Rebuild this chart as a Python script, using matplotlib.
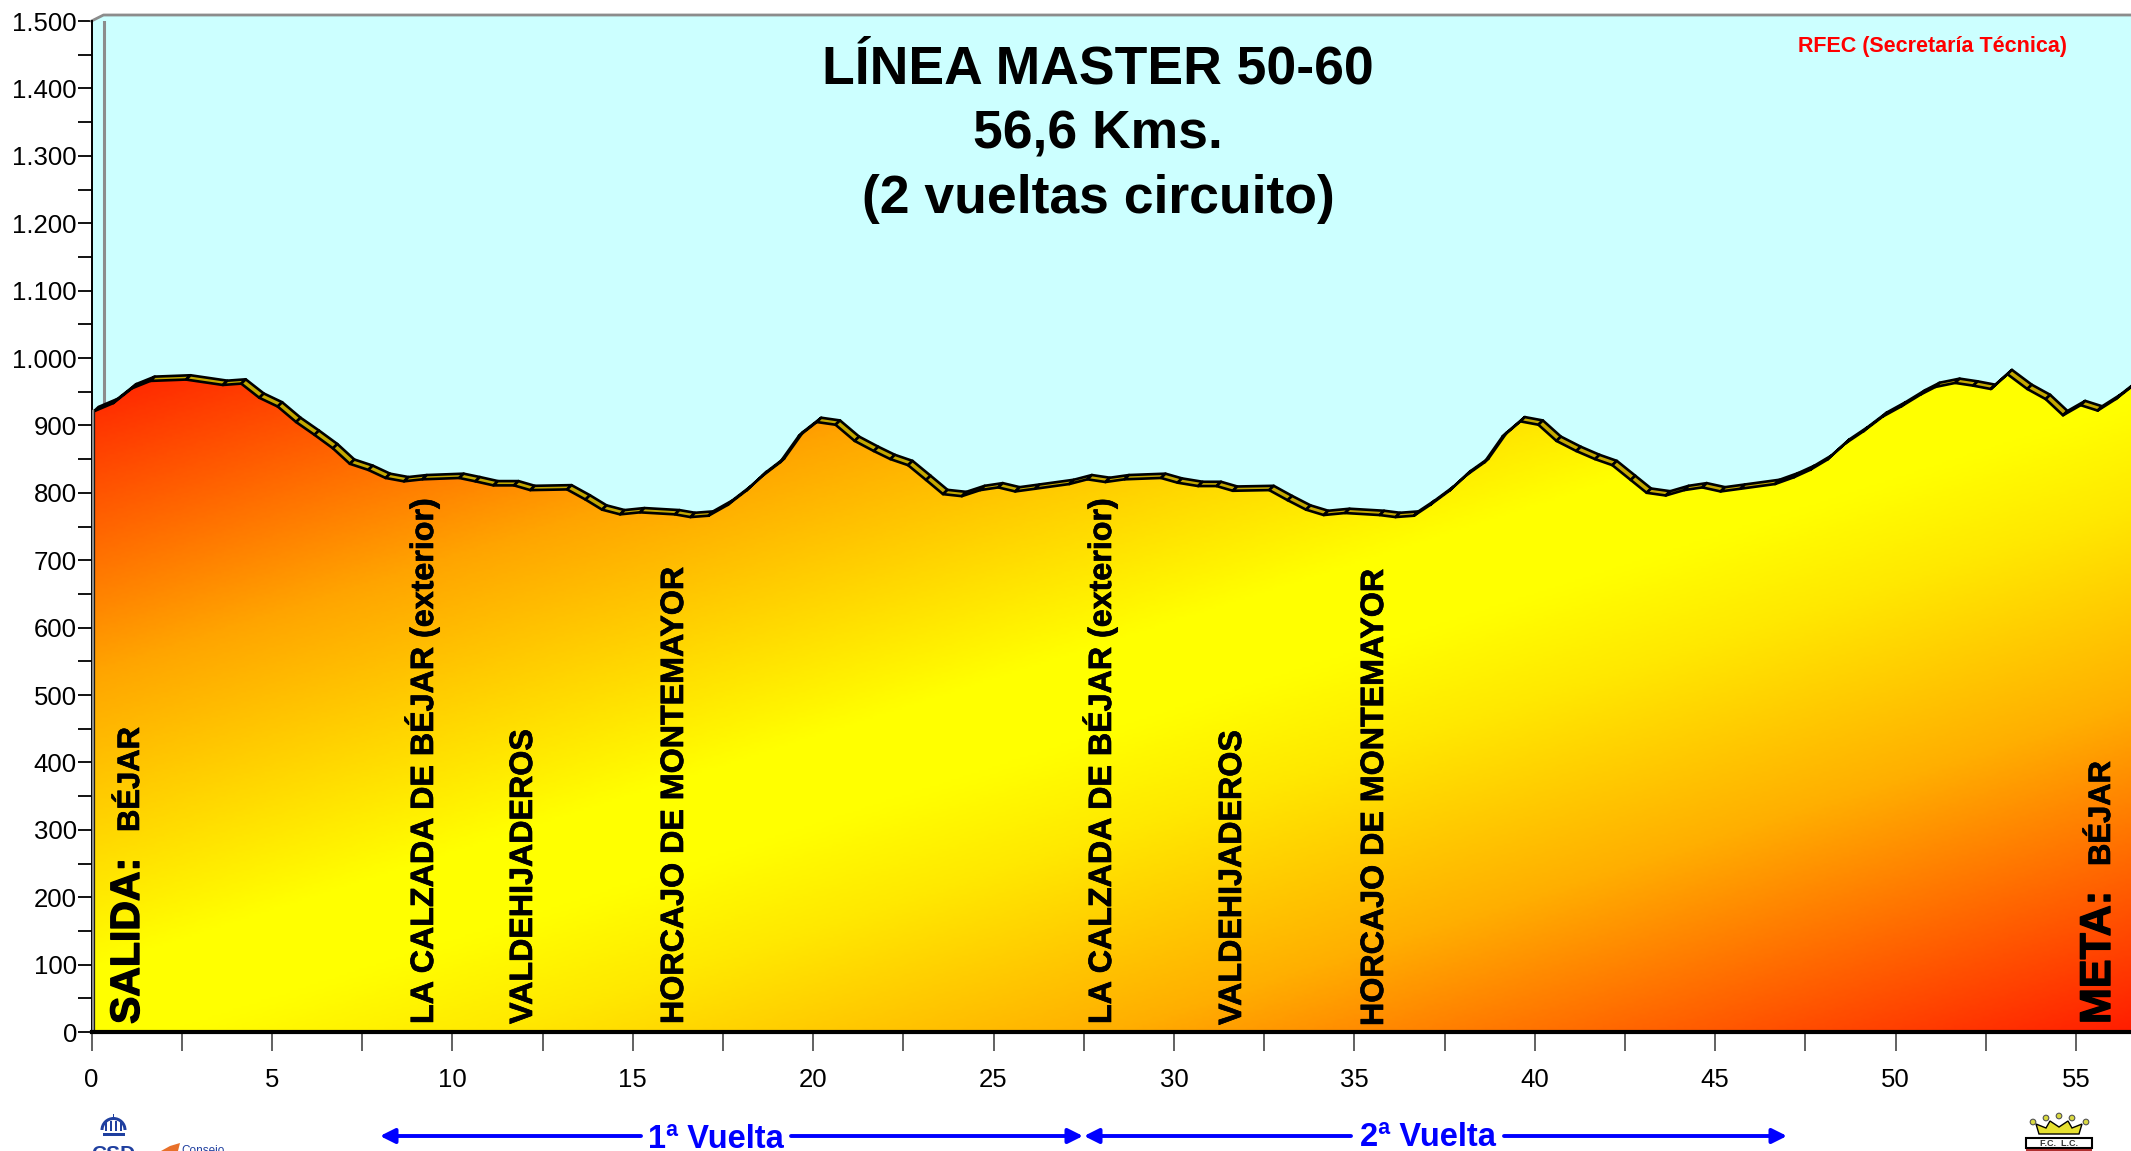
import numpy as np
import matplotlib
matplotlib.use('Agg')
import matplotlib.pyplot as plt
import matplotlib.patheffects as pe
from matplotlib.colors import LinearSegmentedColormap
from matplotlib.patches import Polygon, Rectangle, Circle, Wedge
from matplotlib.collections import PolyCollection

plt.rcParams['font.family'] = ['Liberation Sans', 'DejaVu Sans']

km = [0.07, 0.6, 1.12, 1.63, 2.62, 3.64, 4.15, 4.65, 5.16, 5.67, 6.18, 6.69, 7.16, 7.67, 8.15, 8.66,
      9.17, 10.19, 10.64, 11.14, 11.71, 12.16, 13.18, 13.69, 14.15, 14.65, 15.2, 16.17, 16.6, 17.1,
      17.63, 18.14, 18.59, 19.08, 19.6, 20.1, 20.62, 21.15, 21.68, 22.14, 22.63, 23.13, 23.6, 24.12,
      24.63, 25.13, 25.6, 26.15, 27.1, 27.6, 28.1, 28.63, 29.64, 30.1, 30.67, 31.18, 31.63, 32.64,
      33.15, 33.66, 34.15, 34.74, 35.7, 36.14, 36.65, 37.1, 37.63, 38.1, 38.6, 39.1, 39.6, 40.1,
      40.6, 41.15, 41.67, 42.15, 42.66, 43.1, 43.63, 44.14, 44.64, 45.15, 45.7, 46.66, 47.18, 47.63,
      48.1, 48.6, 49.1, 49.64, 50.15, 50.7, 51.1, 51.65, 52.15, 52.64, 53.1, 53.65, 54.16, 54.64,
      55.13, 55.6, 56.1, 56.53]
alt = [921, 933, 955, 966, 968, 960, 962, 941, 928, 905, 886, 866, 843, 834, 822, 817,
       820, 822, 817, 811, 811, 804, 805, 790, 775, 768, 771, 768, 764, 766,
       782, 803, 825, 845, 884, 905, 901, 877, 862, 850, 841, 819, 798, 795,
       804, 808, 802, 806, 813, 820, 816, 820, 822, 815, 810, 810, 803, 804,
       789, 775, 767, 770, 767, 764, 766, 782, 803, 826, 845, 883, 906, 901,
       877, 862, 850, 841, 819, 800, 796, 804, 808, 802, 806, 813, 823, 834,
       849, 873, 891, 913, 928, 946, 957, 963, 959, 954, 976, 954, 939, 915,
       930, 922, 939, 957]

xticks_major = [0, 5, 10, 15, 20, 25, 30, 35, 40, 45, 50, 55]
yticks_major = list(range(0, 1600, 100))
ylabels = ['0', '100', '200', '300', '400', '500', '600', '700', '800', '900',
           '1.000', '1.100', '1.200', '1.300', '1.400', '1.500']

W, H = 2131, 1151
X0, X55, Y0, Y1500 = 91.5, 2076, 1032, 21
xmax = (W - X0) / ((X55 - X0) / 55)

fig = plt.figure(figsize=(W / 100, H / 100), dpi=100, facecolor='white')
ax = fig.add_axes([X0 / W, 1 - Y0 / H, 1 - X0 / W, (Y0 - Y1500) / H])
ax.set_xlim(0, xmax)
ax.set_ylim(0, 1500)
ax.set_facecolor('#CCFFFF')

kx = (X55 - X0) / 55
ky = (Y0 - Y1500) / 1500
x = np.array(km)
y = np.array(alt)

# side wall and back wall lines
wall_dx, wall_dy = 12 / kx, 6 / ky
ax.add_patch(Polygon([(0, 1500), (wall_dx, 1500 + wall_dy), (xmax + 1, 1500 + wall_dy), (xmax + 1, 0), (0, 0)],
                     closed=True, fc='#CCFFFF', ec='none', clip_on=False, zorder=1))
ax.plot([0, wall_dx, xmax], [1500, 1500 + wall_dy, 1500 + wall_dy], color='#8c8c8c', lw=2, clip_on=False, zorder=2)
ax.plot([wall_dx, wall_dx], [800, 1500 + wall_dy], color='#8c8c8c', lw=2.2, zorder=2)

# profile with diagonal gradient
cmap = LinearSegmentedColormap.from_list('perfil', [(0, '#ff2300'), (0.225, '#ffa500'), (0.45, '#ffff00'), (0.52, '#ffff00'),
                                                    (0.6, '#ffe800'), (0.75, '#ffaf00'), (0.81, '#ff8c00'), (1, '#ff1e00')])
gx, gy = np.meshgrid(np.linspace(0, xmax, 500), np.linspace(0, 1000, 300))
u = gx / xmax - gy / 970
im = ax.imshow(u, extent=(0, xmax, 0, 1000), origin='lower', cmap=cmap, vmin=-1, vmax=1, aspect='auto',
               zorder=3, interpolation='bilinear')
outline = np.column_stack([np.r_[x[0], x, x[-1]], np.r_[0, y, 0]])
clip = Polygon(outline, closed=True, transform=ax.transData, fc='none', ec='none')
ax.add_patch(clip)
im.set_clip_path(clip)
ax.set_xlim(0, xmax)
ax.set_ylim(0, 1500)

# top ribbon of the 3d profile
dx3, dy3 = 4.5 / kx, 4.3 / ky
quads = [[(x[i], y[i]), (x[i + 1], y[i + 1]), (x[i + 1] + dx3, y[i + 1] + dy3), (x[i] + dx3, y[i] + dy3)]
         for i in range(len(x) - 1)]
ax.add_collection(PolyCollection(quads, facecolors='#c4a800', edgecolors='black', linewidths=1.9, zorder=4))
ax.plot([x[0], x[0]], [0, y[0]], color='black', lw=1.6, zorder=5)
ax.plot([0, 0], [0, y[0]], color='#8c8c8c', lw=2.5, zorder=5)
ax.plot([0, xmax], [0, 0], color='black', lw=3, zorder=6, clip_on=False)

for s in ax.spines.values():
    s.set_visible(False)
ax.spines['left'].set_visible(True)
ax.spines['left'].set_linewidth(1.4)
ax.spines['left'].set_zorder(2)

ax.set_xticks(xticks_major)
ax.set_xticks(np.arange(2.5, 56, 5), minor=True)
ax.set_yticks(yticks_major)
ax.set_yticklabels(ylabels)
ax.set_yticks(np.arange(50, 1500, 100), minor=True)
ax.tick_params(axis='x', which='both', length=14, width=1.3, color='#555555', labelsize=18.5, pad=12)
ax.tick_params(axis='y', which='both', length=10, width=1.3, color='black', labelsize=18.5, pad=0.5)

# overlay in pixels for the labels
ov = fig.add_axes([0, 0, 1, 1], zorder=10)
ov.set_xlim(0, W)
ov.set_ylim(H, 0)
ov.axis('off')


def vtext(xp, yp, s, size, fat=0.5):
    t = ov.text(xp, yp, s, rotation=90, rotation_mode='anchor', ha='left', va='baseline',
                fontsize=size, fontweight='bold', color='black')
    t.set_path_effects([pe.withStroke(linewidth=fat, foreground='black')])


vtext(139, 1024, 'SALIDA:', 29.5, 1.0)
vtext(139, 832, 'BÉJAR', 22.3)
vtext(433, 1024, 'LA CALZADA DE BÉJAR (exterior)', 23.2)
vtext(532, 1024, 'VALDEHIJADEROS', 23.2)
vtext(683, 1024, 'HORCAJO DE MONTEMAYOR', 23.2)
vtext(1111, 1024, 'LA CALZADA DE BÉJAR (exterior)', 23.2)
vtext(1241, 1025, 'VALDEHIJADEROS', 23.2)
vtext(1383, 1026, 'HORCAJO DE MONTEMAYOR', 23.2)
vtext(2110, 1024, 'META:', 31, 1.0)
vtext(2110, 866, 'BÉJAR', 22.3)

ov.text(1098, 69, 'LÍNEA MASTER 50-60', ha='center', va='center', fontsize=38.5, fontweight='bold')
ov.text(1098, 134, '56,6 Kms.', ha='center', va='center', fontsize=38.5, fontweight='bold')
ov.text(1098, 199, '(2 vueltas circuito)', ha='center', va='center', fontsize=38.5, fontweight='bold')
ov.text(1932, 46, 'RFEC (Secretaría Técnica)', ha='center', va='center', fontsize=15.5, fontweight='bold', color='#ff0000')


def arrow(x1, x2):
    ov.annotate('', xy=(x2, 1136), xytext=(x1, 1136),
                arrowprops=dict(arrowstyle='-|>', color='#0000ff', lw=2.8, mutation_scale=22, shrinkA=0, shrinkB=0))


arrow(641, 380)
arrow(791, 1083)
arrow(1351, 1084)
arrow(1504, 1787)
ov.text(716, 1139, '1ª Vuelta', ha='center', va='center', fontsize=23.5, fontweight='bold', color='#0000ff')
ov.text(1428, 1137, '2ª Vuelta', ha='center', va='center', fontsize=23.5, fontweight='bold', color='#0000ff')

# left logos, cut by the bottom edge
blue = '#1f3f9f'
ov.add_patch(Rectangle((103, 1133), 22, 3, fc=blue, ec='none'))
ov.add_patch(Rectangle((112.5, 1114), 1.6, 6, fc=blue, ec='none'))
ov.add_patch(Wedge((113.5, 1130), 13, 180, 360, width=3, fc=blue, ec='none'))
for cx in [106, 111, 116, 121]:
    ov.add_patch(Rectangle((cx - 1, 1121), 2.4, 10, fc=blue, ec='none'))
ov.text(113.5, 1145, 'CSD', ha='center', va='top', fontsize=15, fontweight='bold', color=blue, clip_on=True)
ov.add_patch(Polygon([(161, 1151), (170, 1146), (180, 1143), (178, 1151)], closed=True, fc='#e8702a', ec='none'))
ov.text(203, 1145, 'Consejo', ha='center', va='top', fontsize=8.5, color=blue, clip_on=True)

# right logo
ov.add_patch(Rectangle((2026, 1138), 66, 10, fc='white', ec='black', lw=1.5))
ov.add_patch(Rectangle((2026, 1149), 66, 2, fc='#b03030', ec='none'))
ov.text(2059, 1143, 'F.C.  L.C.', ha='center', va='center', fontsize=6.5, fontweight='bold', color='#333333')
ov.add_patch(Polygon([(2039, 1134), (2036, 1124), (2046, 1128), (2050, 1121), (2059, 1127), (2068, 1121), (2072, 1128),
                      (2082, 1124), (2079, 1134)], closed=True, fc='#e6e030', ec='black', lw=1))
for cx, cy in [(2033, 1122), (2046, 1118), (2059, 1116), (2072, 1118), (2086, 1122)]:
    ov.add_patch(Circle((cx, cy), 2.8, fc='#d8d840', ec='#555555', lw=0.8))

fig.savefig('out.png', dpi=100, facecolor='white')
